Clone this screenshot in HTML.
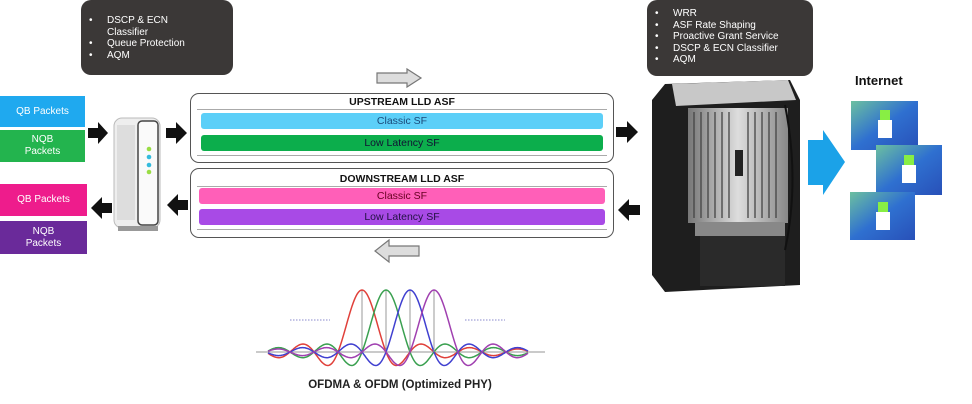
<!DOCTYPE html>
<html><head><meta charset="utf-8"><style>
*{margin:0;padding:0;box-sizing:border-box}
body{width:972px;height:404px;background:#fff;position:relative;overflow:hidden;font-family:"Liberation Sans",sans-serif}
.a{position:absolute}
.dark{background:#3b3837;border-radius:10px;color:#fff;font-size:10px;line-height:11.5px}
.dark ul{list-style:none}
.dark li{position:relative;padding-left:26px}
.dark li:before{content:"•";position:absolute;left:8px}
.pk{color:#fff;font-size:10px;text-align:center;display:flex;align-items:center;justify-content:center;line-height:12px}
.box{border:1.5px solid #555;border-radius:9px;background:#fff}
.ttl{font-weight:bold;font-size:10.5px;text-align:center;color:#111}
.bar{border-radius:3px;font-size:10.5px;text-align:center;line-height:16px}
.ln{height:1px;background:#aaa}
</style></head><body>
<div class="a dark" style="left:81px;top:0;width:152px;height:75px;padding-top:15px"><ul><li>DSCP &amp; ECN<br>Classifier</li><li>Queue Protection</li><li>AQM</li></ul></div>
<div class="a dark" style="left:647px;top:0;width:166px;height:76px;padding-top:8px"><ul><li>WRR</li><li>ASF Rate Shaping</li><li>Proactive Grant Service</li><li>DSCP &amp; ECN Classifier</li><li>AQM</li></ul></div>

<div class="a pk" style="left:0;top:96px;width:85px;height:31px;background:#1fa9ef">QB Packets</div>
<div class="a pk" style="left:0;top:130px;width:85px;height:32px;background:#23b44e">NQB<br>Packets</div>
<div class="a pk" style="left:0;top:184px;width:87px;height:32px;background:#ee1c8c">QB Packets</div>
<div class="a pk" style="left:0;top:221px;width:87px;height:33px;background:#6a2a9a">NQB<br>Packets</div>

<svg class="a" style="left:0;top:0" width="972" height="404">
<defs>
<linearGradient id="sil" x1="0" x2="1"><stop offset="0" stop-color="#777"/><stop offset=".5" stop-color="#ddd"/><stop offset="1" stop-color="#888"/></linearGradient>
<linearGradient id="tile" x1="0" y1="0" x2="1" y2="1"><stop offset="0" stop-color="#6cc0a0"/><stop offset=".5" stop-color="#2f70d0"/><stop offset="1" stop-color="#2850b8"/></linearGradient>
</defs>
<g fill="#111">
<polygon points="88,128 98,128 98,122 108,133 98,144 98,138 88,138"/>
<polygon points="166,128 176,128 176,122 187,133 176,144 176,138 166,138"/>
<polygon points="112,203 102,203 102,197 91,208 102,219 102,213 112,213"/>
<polygon points="188,200 178,200 178,194 167,205 178,216 178,210 188,210"/>
<polygon points="616,127 627,127 627,121 638,132 627,143 627,137 616,137"/>
<polygon points="640,205 629,205 629,199 618,210 629,221 629,215 640,215"/>
</g>
<polygon points="377,73 407,73 407,69 421,78 407,87 407,83 377,83" fill="#ddd" stroke="#777" stroke-width="1.2"/>
<polygon points="419,246 389,246 389,240 375,251 389,262 389,256 419,256" fill="#ddd" stroke="#777" stroke-width="1.2"/>
<polygon points="808,140 823,140 823,130 845,162 823,195 823,185 808,185" fill="#1ba2e8"/>
<!-- modem -->
<rect x="114" y="118" width="46" height="110" rx="8" fill="#eee" stroke="#bbb"/>
<rect x="138" y="121" width="20" height="104" rx="4" fill="#fafafa" stroke="#444" stroke-width="1.5"/>
<rect x="117" y="125" width="18" height="95" fill="#ddd"/>
<circle cx="149" cy="149" r="2.3" fill="#9d4"/><circle cx="149" cy="157" r="2.3" fill="#3bd"/><circle cx="149" cy="165" r="2.3" fill="#3bd"/><circle cx="149" cy="172" r="2.3" fill="#9d4"/>
<rect x="118" y="226" width="40" height="5" fill="#999"/>
<!-- CMTS -->
<polygon points="665,84 790,80 800,100 800,285 665,292 652,275 652,100" fill="#1e1e1e"/>
<polygon points="672,84 788,80 796,100 676,106" fill="#c8c8c8"/>
<rect x="688" y="108" width="100" height="115" fill="url(#sil)"/>
<g stroke="#444" stroke-width="1.3"><line x1="694" y1="112" x2="694" y2="218"/><line x1="701" y1="112" x2="701" y2="218"/><line x1="708" y1="112" x2="708" y2="218"/><line x1="715" y1="112" x2="715" y2="218"/><line x1="722" y1="112" x2="722" y2="218"/><line x1="729" y1="112" x2="729" y2="218"/><line x1="748" y1="112" x2="748" y2="218"/><line x1="755" y1="112" x2="755" y2="218"/><line x1="762" y1="112" x2="762" y2="218"/><line x1="769" y1="112" x2="769" y2="218"/><line x1="776" y1="112" x2="776" y2="218"/></g>
<rect x="735" y="150" width="8" height="26" fill="#222"/>
<rect x="695" y="222" width="90" height="14" fill="#888"/>
<rect x="700" y="236" width="85" height="50" fill="#2a2a2a"/>
<path d="M785 105 Q800 180 785 250" stroke="#111" stroke-width="2" fill="none"/>
<!-- internet tiles -->
<g>
<rect x="851" y="101" width="67" height="49" fill="url(#tile)"/><rect x="878" y="120" width="14" height="18" fill="#fff"/><rect x="880" y="110" width="10" height="10" fill="#8e4"/>
<rect x="876" y="145" width="66" height="50" fill="url(#tile)"/><rect x="902" y="165" width="14" height="18" fill="#fff"/><rect x="904" y="155" width="10" height="10" fill="#8e4"/>
<rect x="850" y="192" width="65" height="48" fill="url(#tile)"/><rect x="876" y="212" width="14" height="18" fill="#fff"/><rect x="878" y="202" width="10" height="10" fill="#8e4"/>
</g>
<g id="ofdm"></g>
</svg>
<div class="a" style="left:855px;top:73px;font-weight:bold;font-size:13px;color:#111">Internet</div>

<div class="a box" style="left:190px;top:93px;width:424px;height:70px">
<div class="ttl" style="margin-top:2px;line-height:13px">UPSTREAM LLD ASF</div>
<div class="ln" style="margin:0 6px"></div>
<div class="bar" style="margin:3px 10px 0;background:#5ccff8;color:#1a4a7a">Classic SF</div>
<div class="bar" style="margin:6px 10px 0;background:#0cae4c;color:#113">Low Latency SF</div>
<div class="ln" style="margin:4px 6px 0"></div>
</div>
<div class="a box" style="left:190px;top:168px;width:424px;height:70px">
<div class="ttl" style="margin-top:4px;line-height:13px">DOWNSTREAM LLD ASF</div>
<div class="ln" style="margin:0 6px"></div>
<div class="bar" style="margin:1px 8px 0;background:#ff5fb8;color:#602">Classic SF</div>
<div class="bar" style="margin:5px 8px 0;background:#a84ae6;color:#214">Low Latency SF</div>
<div class="ln" style="margin:4px 6px 0"></div>
</div>
<div class="a" style="left:250px;top:379px;width:300px;text-align:center;font-weight:bold;font-size:11.5px;color:#222">OFDMA &amp; OFDM (Optimized PHY)</div>
<script>
var g=document.getElementById('ofdm'),s='';
s+='<line x1="256" y1="352" x2="545" y2="352" stroke="#aaa" stroke-width="1.2"/>';
s+='<line x1="290" y1="320" x2="330" y2="320" stroke="#88c" stroke-dasharray="1.5,1.5"/>';
s+='<line x1="465" y1="320" x2="505" y2="320" stroke="#88c" stroke-dasharray="1.5,1.5"/>';
var cs=['#e0403a','#3aa050','#4040d0','#a040b0'];
for(var k=0;k<4;k++){var c=362+24*k;s+='<line x1="'+c+'" y1="290" x2="'+c+'" y2="352" stroke="#999"/>';
var p='';for(var x=268;x<=528;x+=1){var t=(x-c)/24*Math.PI;var v=Math.abs(t)<1e-6?1:Math.sin(t)/t;var y=352-62*v;p+=(p?' L':'M')+x+','+y.toFixed(1);}
s+='<path d="'+p+'" fill="none" stroke="'+cs[k]+'" stroke-width="1.5"/>';}
g.innerHTML=s;
</script>
</body></html>
